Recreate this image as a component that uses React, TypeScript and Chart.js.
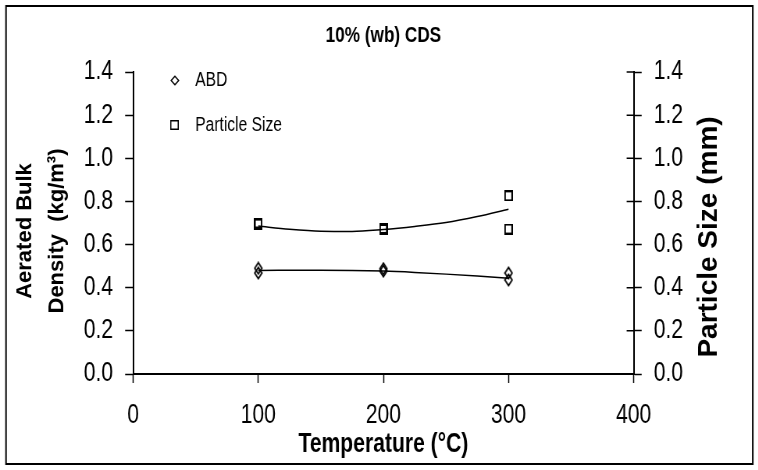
import React, { useEffect, useRef } from "react";
import { Chart, registerables } from "chart.js";

Chart.register(...registerables);

// ---- text ----
const chartTitle = "10% (wb) CDS";
const xTitle = "Temperature (°C)";
const leftTitle = ["Aerated Bulk", "Density  (kg/m³)"];
const rightTitle = "Particle Size (mm)";
const seriesNames = ["ABD", "Particle Size"];

// ---- ticks ----
const xTicks = [0, 100, 200, 300, 400];
const yTicks = [0, 0.2, 0.4, 0.6, 0.8, 1.0, 1.2, 1.4];

// ---- measured points ----
const abdTemps = [100, 100, 200, 200, 300, 300];
const abdValues = [0.49, 0.468, 0.488, 0.477, 0.468, 0.436];
const sizeTemps = [100, 100, 200, 200, 300, 300];
const sizeValues = [0.7, 0.695, 0.675, 0.67, 0.826, 0.672];

// ---- trend lines ----
const abdTrendTemps = [100, 150, 200, 225, 250, 275, 300];
const abdTrendValues = [0.48, 0.481, 0.477, 0.471, 0.463, 0.454, 0.444];
const sizeTrendTemps = [100, 125, 150, 175, 200, 225, 250, 275, 300];
const sizeTrendValues = [0.686, 0.671, 0.662, 0.661, 0.67, 0.684, 0.702, 0.73, 0.764];

const FONT = "'Liberation Sans', Arial, sans-serif";
// the whole figure is drawn condensed horizontally (narrow type)
const SX = 0.78;
const W = 758 / SX;
const H = 470;

function makeDiamond(w: number, h: number, lw: number) {
  const c = document.createElement("canvas");
  c.width = w;
  c.height = h;
  const g = c.getContext("2d")!;
  g.strokeStyle = "#000";
  g.lineWidth = lw;
  const m = lw / 2 + 0.5;
  g.beginPath();
  g.moveTo(w / 2, m);
  g.lineTo(w - m, h / 2);
  g.lineTo(w / 2, h - m);
  g.lineTo(m, h / 2);
  g.closePath();
  g.stroke();
  return c;
}

function makeSquare(w: number, h: number, lw: number) {
  const c = document.createElement("canvas");
  c.width = w;
  c.height = h;
  const g = c.getContext("2d")!;
  g.strokeStyle = "#000";
  g.lineWidth = lw;
  g.strokeRect(lw / 2, lw / 2, w - lw, h - lw);
  return c;
}

const pairs = (xs: number[], ys: number[]) => xs.map((x, i) => ({ x, y: ys[i] }));

export default function App() {
  const ref = useRef<HTMLCanvasElement>(null);

  useEffect(() => {
    if (!ref.current) return;
    const diamond = makeDiamond(12, 14, 1.8);
    const square = makeSquare(11, 11, 2);
    const legendDiamond = makeDiamond(12, 11, 1.5);
    const legendSquare = makeSquare(11, 10, 1.5);

    const decor = {
      id: "decor",
      afterDraw(chart: any) {
        const { ctx, chartArea, scales } = chart;
        ctx.save();
        // outer frame
        ctx.strokeStyle = "#000";
        ctx.lineWidth = 2;
        ctx.strokeRect(6 / SX, 6, chart.width - 12 / SX, chart.height - 12);
        // inward ticks on right axis
        const yr = scales.yRight;
        ctx.lineWidth = 1.5;
        ctx.beginPath();
        yTicks.forEach((v) => {
          const y = yr.getPixelForValue(v);
          ctx.moveTo(chartArea.right - 7 / SX, y);
          ctx.lineTo(chartArea.right, y);
        });
        ctx.stroke();
        // legend inside plot
        const entries = [
          { img: legendDiamond, text: seriesNames[0] },
          { img: legendSquare, text: seriesNames[1] },
        ];
        ctx.fillStyle = "#000";
        ctx.font = `20px ${FONT}`;
        ctx.textAlign = "left";
        ctx.textBaseline = "middle";
        entries.forEach((e, i) => {
          const cx = chartArea.left + 41.5 / SX;
          const cy = chartArea.top + 8 + i * 45;
          ctx.drawImage(e.img, Math.round(cx - e.img.width / 2), Math.round(cy - e.img.height / 2));
          ctx.fillText(e.text, chartArea.left + 62 / SX, cy);
        });
        ctx.restore();

        // vertical axis titles: drawn un-condensed (counter the horizontal squeeze)
        const midY = (chartArea.top + chartArea.bottom) / 2;
        ctx.save();
        ctx.scale(1 / SX, 1);
        ctx.fillStyle = "#000";
        ctx.textAlign = "center";
        ctx.textBaseline = "middle";
        ctx.font = `bold 22px ${FONT}`;
        leftTitle.forEach((line, i) => {
          ctx.save();
          ctx.translate(25 + i * 32, midY + 8);
          ctx.rotate(-Math.PI / 2);
          ctx.fillText(line, 0, 0);
          ctx.restore();
        });
        ctx.font = `bold 28px ${FONT}`;
        ctx.translate(708, midY + 14);
        ctx.rotate(-Math.PI / 2);
        ctx.fillText(rightTitle, 0, 0);
        ctx.restore();
      },
    };

    const tickFont = { family: FONT, size: 27 };
    const gridOpts = (len: number) => ({
      display: true,
      drawOnChartArea: false,
      drawTicks: true,
      tickLength: len,
      tickWidth: 1.5,
      tickColor: "#000",
    });
    const yAxisBase = {
      type: "linear" as const,
      min: yTicks[0],
      max: yTicks[yTicks.length - 1],
      afterBuildTicks: (s: any) => {
        s.ticks = yTicks.map((v) => ({ value: v }));
      },
      ticks: {
        color: "#000",
        font: tickFont,
        padding: 12 / SX,
        callback: (v: any) => Number(v).toFixed(1),
      },
      grid: gridOpts(8 / SX),
      border: { display: true, color: "#000", width: 2 },
    };

    const chart = new Chart(ref.current, {
      type: "scatter",
      data: {
        datasets: [
          {
            label: seriesNames[0],
            data: pairs(abdTemps, abdValues),
            pointStyle: diamond as any,
            pointRadius: 6,
            yAxisID: "y",
          },
          {
            label: seriesNames[1],
            data: pairs(sizeTemps, sizeValues),
            pointStyle: square as any,
            pointRadius: 6,
            yAxisID: "yRight",
          },
          {
            label: "",
            data: pairs(abdTrendTemps, abdTrendValues),
            showLine: true,
            pointRadius: 0,
            borderColor: "#000",
            borderWidth: 1.5,
            tension: 0.4,
            cubicInterpolationMode: "monotone",
            yAxisID: "y",
          } as any,
          {
            label: "",
            data: pairs(sizeTrendTemps, sizeTrendValues),
            showLine: true,
            pointRadius: 0,
            borderColor: "#000",
            borderWidth: 1.5,
            tension: 0.4,
            cubicInterpolationMode: "monotone",
            yAxisID: "yRight",
          } as any,
        ],
      },
      options: {
        animation: false,
        responsive: true,
        maintainAspectRatio: false,
        layout: { padding: 0 },
        plugins: {
          legend: { display: false },
          tooltip: { enabled: false },
          title: {
            display: true,
            text: chartTitle,
            fullSize: false,
            color: "#000",
            font: { family: FONT, size: 22, weight: "bold", lineHeight: 1.2 },
            padding: { top: 22.8, bottom: 22.8 },
          },
        },
        scales: {
          x: {
            type: "linear",
            min: xTicks[0],
            max: xTicks[xTicks.length - 1],
            afterBuildTicks: (s: any) => {
              s.ticks = xTicks.map((v) => ({ value: v }));
            },
            afterFit: (s: any) => {
              s.height = 96;
            },
            ticks: { color: "#000", font: tickFont, padding: 16, maxRotation: 0 },
            grid: gridOpts(9),
            border: { display: true, color: "#000", width: 2 },
            title: {
              display: true,
              text: xTitle,
              color: "#000",
              font: { family: FONT, size: 27, weight: "bold", lineHeight: 1.2 },
              padding: { top: 0, bottom: 9 },
            },
          },
          y: {
            ...yAxisBase,
            position: "left",
            afterFit: (s: any) => {
              s.width = 133 / SX;
            },
          },
          yRight: {
            ...yAxisBase,
            position: "right",
            afterFit: (s: any) => {
              s.width = 125 / SX;
            },
          },
        },
      } as any,
      plugins: [decor],
    });
    return () => chart.destroy();
  }, []);

  return (
    <div
      style={{
        position: "fixed",
        left: 0,
        top: 0,
        width: 758,
        height: 470,
        overflow: "hidden",
        background: "#fff",
      }}
    >
      <div
        style={{
          width: W,
          height: H,
          transform: `scaleX(${SX})`,
          transformOrigin: "0 0",
        }}
      >
        <canvas ref={ref} />
      </div>
    </div>
  );
}
